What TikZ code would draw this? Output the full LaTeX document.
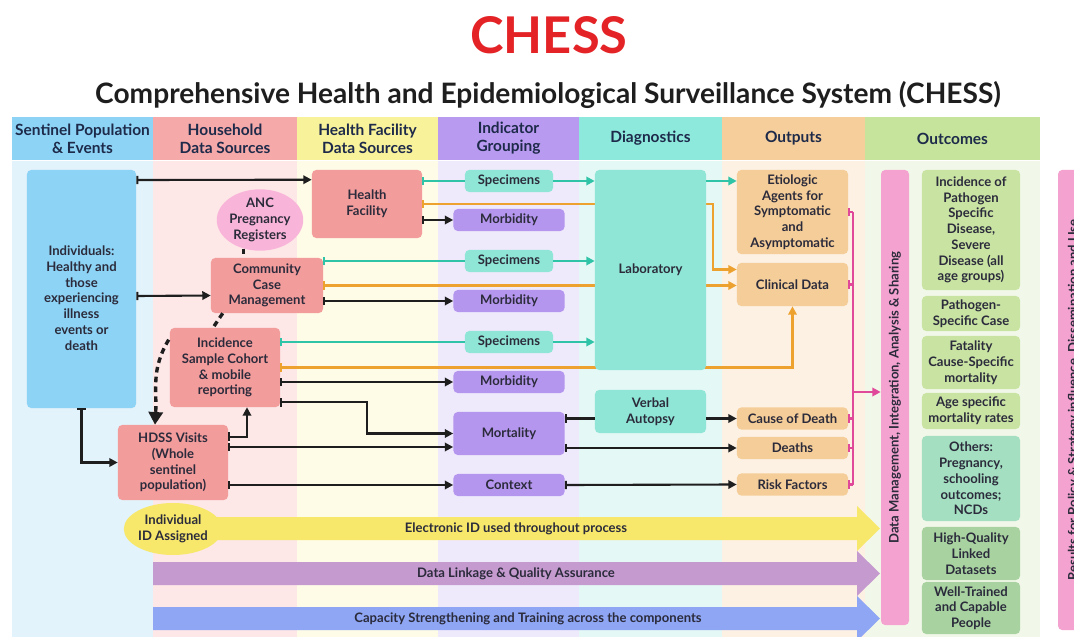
\documentclass[tikz,border=0pt]{standalone}
\usepackage{fontspec}
\setmainfont{Lato}
\usetikzlibrary{shapes.geometric,arrows.meta,positioning,calc}

\definecolor{titleRed}{HTML}{E42327}
\definecolor{txtNavy}{HTML}{1E2A4A}
\definecolor{txtDark}{HTML}{2B2B3B}
\definecolor{hdBlue}{HTML}{8DD3F5}
\definecolor{hdPink}{HTML}{F5A9A9}
\definecolor{hdYellow}{HTML}{F8F29B}
\definecolor{hdPurple}{HTML}{B89AF0}
\definecolor{hdTeal}{HTML}{8EE9DD}
\definecolor{hdOrange}{HTML}{F6CE9B}
\definecolor{hdGreen}{HTML}{C6E49C}
\definecolor{bgBlue}{HTML}{E2F3FB}
\definecolor{bgPink}{HTML}{FDE7E7}
\definecolor{bgYellow}{HTML}{FEFCE6}
\definecolor{bgPurple}{HTML}{EFE9FC}
\definecolor{bgTeal}{HTML}{E4F8F5}
\definecolor{bgOrange}{HTML}{FDF1E4}
\definecolor{bgGreen}{HTML}{F2F8E9}
\definecolor{boxSalmon}{HTML}{F39C9C}
\definecolor{ancPink}{HTML}{F9B5D9}
\definecolor{idYellow}{HTML}{F7E86B}
\definecolor{specTeal}{HTML}{8FE6D6}
\definecolor{morbPurple}{HTML}{B596EE}
\definecolor{outOrange}{HTML}{F5CD98}
\definecolor{ocGreen}{HTML}{C9E3A3}
\definecolor{ocMint}{HTML}{A5DFC1}
\definecolor{ocDark}{HTML}{A8D3A1}
\definecolor{dmPink}{HTML}{F4A3D0}
\definecolor{bandMauve}{HTML}{C49ACF}
\definecolor{bandBlue}{HTML}{8EA6F4}
\definecolor{lnBlack}{HTML}{1E1E1E}
\definecolor{lnTeal}{HTML}{2FC4A8}
\definecolor{lnOrange}{HTML}{EDA12F}
\definecolor{lnPink}{HTML}{E0489A}

\begin{document}
\begin{tikzpicture}[x=0.025cm, y=-0.025cm,
    hdr/.style={align=center, text=txtNavy, minimum height=1.075cm, inner sep=0pt,
        font=\fontsize{11}{13}\selectfont\bfseries},
    box/.style={rounded corners=3pt, align=center, text=txtDark, inner sep=1pt,
        font=\fontsize{9.3}{11.2}\selectfont\bfseries},
    srcbox/.style={box, fill=boxSalmon, minimum width=2.75cm},
    spec/.style={box, fill=specTeal, minimum width=2.2cm, minimum height=0.55cm},
    indic/.style={box, fill=morbPurple, minimum width=2.775cm, minimum height=0.55cm},
    diag/.style={box, fill=specTeal, minimum width=2.775cm},
    outp/.style={box, fill=outOrange, minimum width=2.775cm, minimum height=0.55cm},
    outc/.style={box, fill=ocGreen, minimum width=2.45cm},
    bandtxt/.style={text=txtDark, font=\fontsize{9.3}{11}\selectfont\bfseries},
    blk/.style={line width=1.5pt, draw=lnBlack, {Bar[width=6pt]}-{Triangle[length=6pt,width=6pt]}},
    blkto/.style={line width=1.5pt, draw=lnBlack, -{Triangle[length=6pt,width=6pt]}},
    tealbar/.style={line width=1.5pt, draw=lnTeal, {Bar[width=6pt]}-},
    tealto/.style={line width=1.5pt, draw=lnTeal, -{Triangle[length=6pt,width=6pt]}},
    orng/.style={line width=1.5pt, draw=lnOrange, {Bar[width=6pt]}-{Triangle[length=6pt,width=6pt]}},
    pinkbar/.style={line width=1.5pt, draw=lnPink, {Bar[width=6pt]}-},
    dashln/.style={line width=2.4pt, draw=lnBlack, dash pattern=on 4pt off 3pt}]

\useasboundingbox (0,0) rectangle (1074,637);
\clip (0,0) rectangle (1074,637);

% Title
\node[text=titleRed, font=\fontsize{36}{40}\selectfont\bfseries] (title) at (549,35) {CHESS};
\node[text=lnBlack, font=\fontsize{20}{23}\selectfont\bfseries] (subtitle) at (548,95)
    {Comprehensive Health and Epidemiological Surveillance System (CHESS)};

% Columns
\foreach \xa/\xb/\c in {12/153/bgBlue,153/297/bgPink,297/438/bgYellow,438/579/bgPurple,
    579/722/bgTeal,722/865/bgOrange,865/1040/bgGreen}
    \fill[\c] (\xa,161) rectangle (\xb,637);

\node[hdr, fill=hdBlue, minimum width=3.525cm] (hdsent) at (82.5,138.5) {Sentinel Population\\\& Events};
\node[hdr, fill=hdPink, minimum width=3.6cm] (hdhouse) at (225,138.5) {Household\\Data Sources};
\node[hdr, fill=hdYellow, minimum width=3.525cm] (hdfac) at (367.5,138.5) {Health Facility\\Data Sources};
\node[hdr, fill=hdPurple, minimum width=3.525cm] (hdind) at (508.5,138.5) {Indicator\\Grouping};
\node[hdr, fill=hdTeal, minimum width=3.575cm] (hddiag) at (650.5,138.5) {Diagnostics};
\node[hdr, fill=hdOrange, minimum width=3.575cm] (hdout) at (793.5,138.5) {Outputs};
\node[hdr, fill=hdGreen, minimum width=4.375cm] (hdoc) at (952.5,138.5) {Outcomes};

% Bands across the components
\fill[idYellow] (190,517) -- (857,517) -- (857,506) -- (880,528.5) -- (857,551) -- (857,540) -- (190,540) -- cycle;
\fill[bandMauve] (153,562) -- (857,562) -- (857,551) -- (880,573.5) -- (857,596) -- (857,585) -- (153,585) -- cycle;
\fill[bandBlue] (153,607) -- (857,607) -- (857,596) -- (880,618.5) -- (857,641) -- (857,630) -- (153,630) -- cycle;
\node[bandtxt] (eid) at (516,528.5) {Electronic ID used throughout process};
\node[bandtxt] (link) at (516,573.5) {Data Linkage \& Quality Assurance};
\node[bandtxt] (train) at (528,618.5) {Capacity Strengthening and Training across the components};

% Population and data sources
\node[box, fill=hdBlue, minimum width=2.725cm, minimum height=5.95cm] (indiv) at (81.5,289) {};
\node[box, anchor=center] (indivtxt) at (81.5,298)
    {Individuals:\\Healthy and\\those\\experiencing\\illness\\events or\\death};
\node[srcbox, minimum height=1.7cm] (hf) at (367,204) {Health\\Facility};
\node[box, ellipse, fill=ancPink, inner sep=0pt, minimum width=2.1cm, minimum height=1.5cm] (anc) at (260,220)
    {ANC\\Pregnancy\\Registers};
\node[srcbox, minimum width=2.8cm, minimum height=1.375cm] (ccm) at (267,285.5) {Community\\Case\\Management};
\node[srcbox, minimum height=1.975cm] (isc) at (225,367.5) {Incidence\\Sample Cohort\\\& mobile\\reporting};
\node[srcbox, minimum height=1.875cm] (hdss) at (173,462.5) {HDSS Visits\\(Whole\\sentinel\\population)};
\node[box, ellipse, fill=idYellow, inner sep=0pt, minimum width=2.25cm, minimum height=1.3cm] (idas) at (173,529)
    {Individual\\ID Assigned};
\node[box, fill=outOrange, minimum width=2.775cm, minimum height=1.075cm] (clin) at (792.5,284.5) {Clinical Data};

% Clinical data paths (behind the laboratory)
\draw[orng] (hf.east) -| (713,237) |- ($(clin.west)+(0,-15)$);
\draw[orng] (ccm.east) -- (ccm.east -| clin.west);
\draw[orng] (isc.east) -| (clin.south);

% Indicators
\node[spec] (spec1) at (509,181) {Specimens};
\node[indic] (morb1) at (509,220) {Morbidity};
\node[spec] (spec2) at (509,261) {Specimens};
\node[indic] (morb2) at (509,301) {Morbidity};
\node[spec] (spec3) at (509,342) {Specimens};
\node[indic] (morb3) at (509,382) {Morbidity};
\node[indic, minimum height=1.075cm] (mort) at (509,433.5) {Mortality};
\node[indic] (ctx) at (509,485) {Context};

% Diagnostics and outputs
\node[diag, minimum height=5cm] (lab) at (650.5,270) {Laboratory};
\node[diag, minimum height=1.075cm] (va) at (650.5,411.5) {Verbal\\Autopsy};
\node[outp, minimum height=2.1cm] (etio) at (792.5,212) {Etiologic\\Agents for\\Symptomatic\\and\\Asymptomatic};
\node[outp] (cod) at (792.5,418.5) {Cause of Death};
\node[outp] (deaths) at (792.5,448) {Deaths};
\node[outp] (risk) at (792.5,484.5) {Risk Factors};

% Outcomes
\node[box, fill=dmPink, rotate=90, minimum width=11.375cm, minimum height=0.7cm] (dm) at (895,397.5)
    {Data Management, Integration, Analysis \& Sharing};
\node[outc, minimum height=3cm] (oc1) at (971,230) {Incidence of\\Pathogen\\Specific\\Disease,\\Severe\\Disease (all\\age groups)};
\node[outc, minimum height=0.875cm] (oc2) at (971,313.5) {Pathogen-\\Specific Case};
\node[outc, minimum height=1.325cm] (oc3) at (971,362.5) {Fatality\\Cause-Specific\\mortality};
\node[outc, minimum height=0.9cm] (oc4) at (971,411) {Age specific\\mortality rates};
\node[outc, fill=ocMint, minimum height=2.125cm] (oc5) at (971,478.5) {Others:\\Pregnancy,\\schooling\\outcomes;\\NCDs};
\node[outc, fill=ocDark, minimum height=1.325cm] (oc6) at (971,553.5) {High-Quality\\Linked\\Datasets};
\node[outc, fill=ocDark, minimum height=1.3cm] (oc7) at (971,608) {Well-Trained\\and Capable\\People};
\node[box, fill=dmPink, rotate=90, minimum width=11.5cm, minimum height=0.8cm] (use) at (1074,400)
    {Results for Policy \& Strategy influence, Dissemination and Use};

% Population flows
\draw[blk] (indiv.east |- 0,180) -- ($(hf.north west)+(0,10)$);
\draw[blk] (indiv.east |- 0,296) -- ($(ccm.west)+(0,10)$);
\draw[blk] (indiv.south) |- (hdss.west);
\draw[dashln] (anc.240) -- (anc.240 |- ccm.north);
\draw[dashln] ($(ccm.south west)+(12,0)$) -- ($(isc.north)+(-12,0)$);
\draw[dashln, -{Triangle[length=9pt,width=10pt]}] ($(isc.north west)+(-1,12)$)
    .. controls +(-18,30) and +(2,-35) .. ($(hdss.north)+(-18,0)$);
\draw[blk] ($(hdss.north east)+(0,12)$) -| ($(isc.south)+(22,0)$);

% Indicator flows
\draw[tealbar] (hf.east |- spec1) -- (spec1.west);
\draw[tealbar] (ccm.east |- spec2) -- (spec2.west);
\draw[tealbar] (isc.east |- spec3) -- (spec3.west);
\draw[blk] (hf.east |- morb1) -- (morb1.west);
\draw[blk] (ccm.east |- morb2) -- (morb2.west);
\draw[blk] (isc.east |- morb3) -- (morb3.west);
\draw[blk] ($(isc.south east)+(0,-5)$) -| (367,420) |- (mort.west);
\draw[blk] (hdss.east |- 0,447) -- (mort.west |- 0,447);
\draw[blk] (hdss.east |- ctx) -- (ctx.west);

% Diagnostics flows
\foreach \s in {spec1,spec2,spec3}
    \draw[tealto] (\s.east) -- (\s.east -| lab.west);
\draw[tealbar, -{Triangle[length=6pt,width=6pt]}] (lab.east |- spec1) -- (spec1 -| etio.west);
\draw[line width=1.5pt, draw=lnBlack, {Bar[width=6pt]}-] (mort.east |- cod) -- (cod -| va.west);
\draw[blkto] (va.east |- cod) -- (cod.west);
\draw[blk] (mort.east |- deaths) -- (deaths.west);
\draw[blk] (ctx.east) -- (risk.west);

% Outputs to data management
\coordinate (bus) at (853,392);
\foreach \n in {etio,clin,cod,deaths,risk}
    \draw[pinkbar] (\n.east) -- (\n.east -| bus);
\draw[line width=1.5pt, draw=lnPink] (etio.east -| bus) -- (risk.east -| bus);
\draw[line width=1.5pt, draw=lnPink, -{Triangle[length=6pt,width=6pt]}] (bus) -- (bus -| dm.north);
\end{tikzpicture}
\end{document}
